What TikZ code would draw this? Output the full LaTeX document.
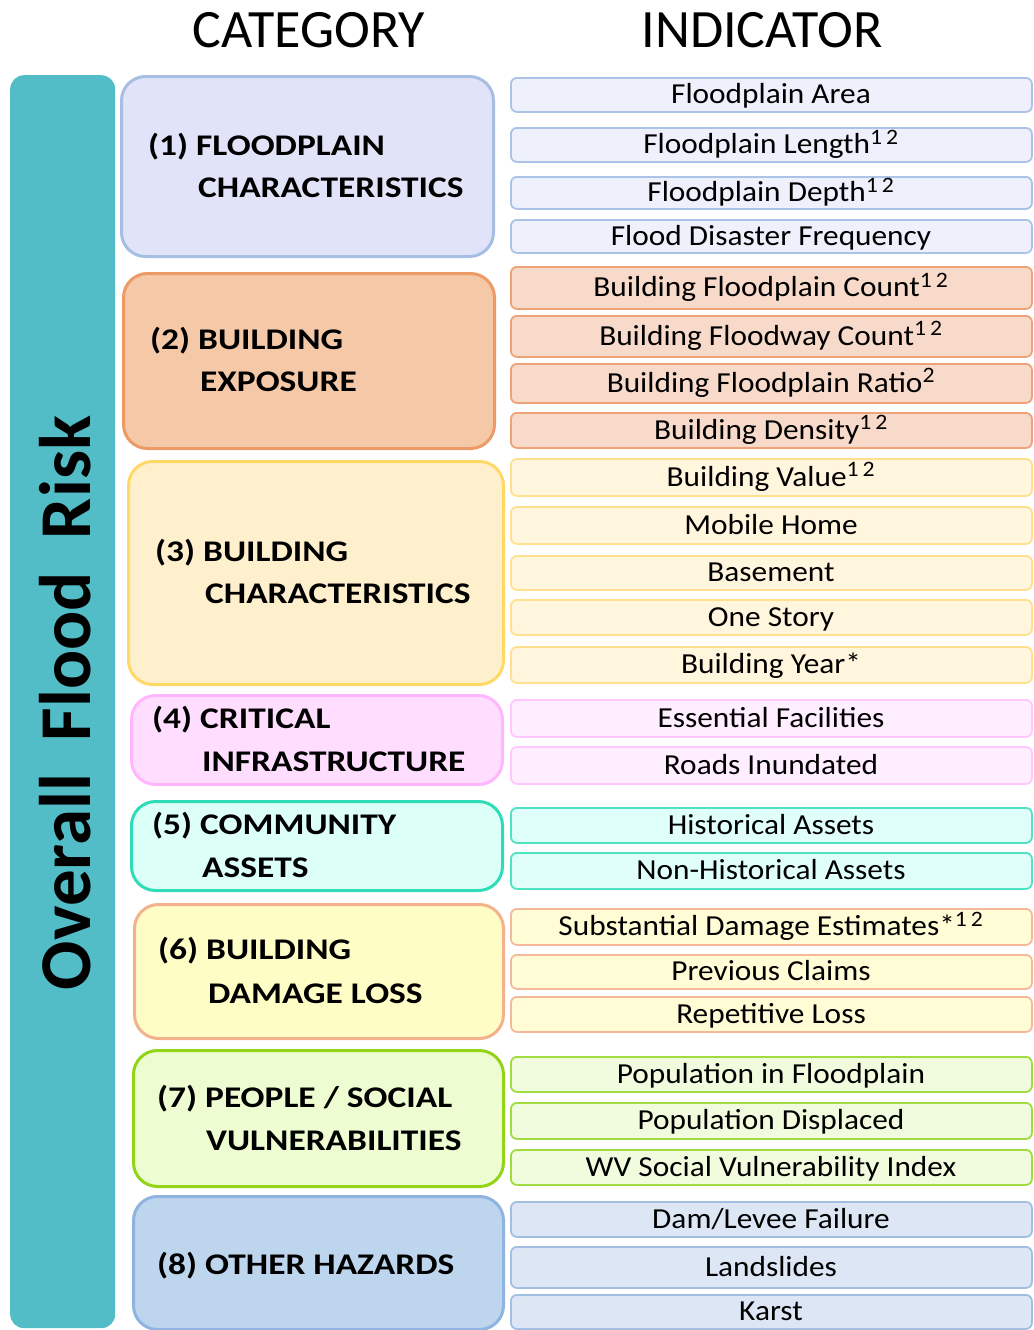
\documentclass[tikz,border=0pt]{standalone}
\usepackage{fontspec}
\setmainfont{Carlito}
\usepackage{graphicx}
\definecolor{bar}{HTML}{52BCC7}
\definecolor{c1d}{HTML}{A6BEE2}\definecolor{c1f}{HTML}{E1E4F8}
\definecolor{c2d}{HTML}{ED9B66}\definecolor{c2f}{HTML}{F5C8A8}
\definecolor{c3d}{HTML}{FFD966}\definecolor{c3f}{HTML}{FFF0CD}
\definecolor{c4d}{HTML}{FFB6FF}\definecolor{c4f}{HTML}{FFDDFF}
\definecolor{c5d}{HTML}{2EDDB8}\definecolor{c5f}{HTML}{DCFFF8}
\definecolor{c6d}{HTML}{F5B08C}\definecolor{c6f}{HTML}{FFFDC6}
\definecolor{c7d}{HTML}{92D417}\definecolor{c7f}{HTML}{EEFCD2}
\definecolor{c8d}{HTML}{8EB4DF}\definecolor{c8f}{HTML}{BED5EE}
\definecolor{i1d}{HTML}{ABC3E6}\definecolor{i1f}{HTML}{EEF0FC}
\definecolor{i2d}{HTML}{EFA277}\definecolor{i2f}{HTML}{F8DACA}
\definecolor{i3d}{HTML}{FFE08E}\definecolor{i3f}{HTML}{FFF6DD}
\definecolor{i4d}{HTML}{FFC6FF}\definecolor{i4f}{HTML}{FFEEFF}
\definecolor{i5d}{HTML}{4EE3C3}\definecolor{i5f}{HTML}{E0FFFA}
\definecolor{i6d}{HTML}{F6B89A}\definecolor{i6f}{HTML}{FFFCD6}
\definecolor{i7d}{HTML}{A0DC40}\definecolor{i7f}{HTML}{F1FCDF}
\definecolor{i8d}{HTML}{A2BFE2}\definecolor{i8f}{HTML}{DCE6F4}
\tikzset{
  catbox/.style={rectangle, rounded corners=24pt, line width=3pt, anchor=north west, inner sep=0pt},
  indbox/.style={rectangle, rounded corners=6pt, line width=1.8pt, anchor=north west, inner sep=0pt},
  indtext/.style={anchor=base, inner sep=0pt, font=\fontsize{29}{34}\selectfont},
  cattext/.style={anchor=base west, inner sep=0pt, font=\bfseries\fontsize{30}{36}\selectfont},
  header/.style={anchor=base, inner sep=0pt, font=\fontsize{54}{60}\selectfont},
}
\newcommand{\catbox}[6]{\node[catbox, draw=#6d, fill=#6f, minimum width={(#4-#2)*1pt}, minimum height={(#5-#3)*1pt}] (#1) at (#2,#3) {};}
\newcommand{\indbox}[5]{%
  \node[indbox, draw=#4d, fill=#4f, minimum width=521pt, minimum height={(#3-#2)*1pt}] (#1) at (510,#2) {};
  \node[indtext] (#1t) at (771,{(#2+#3)/2+9.5}) {\scalebox{1.08}[1]{#5}};}
\newcommand{\cattxt}[4]{\node[cattext] (#1) at (#2,{#3+10}) {\scalebox{1.18}[1]{#4}};}
\newcommand{\sups}[1]{\textsuperscript{\fontsize{22}{24}\selectfont #1}}
\begin{document}
\begin{tikzpicture}[x=1pt,y=-1pt]
\useasboundingbox (0,0) rectangle (1033,1330);
% headers
\node[header] (hcat) at (309,48) {CATEGORY};
\node[header] (hind) at (762,48) {INDICATOR};
% left bar
\node[rectangle, fill=bar, rounded corners=14pt, anchor=north west, inner sep=0pt, minimum width=105pt, minimum height=1253pt] (bar) at (10,75) {};
\node[rotate=90, inner sep=0pt, font=\bfseries\fontsize{73}{78}\selectfont] (risk) at (65,703) {Overall\hspace{0.45em}Flood\hspace{0.45em}Risk};
% categories
\catbox{c1}{120}{75}{492}{255}{c1}
\catbox{c2}{122}{272}{493}{447}{c2}
\catbox{c3}{127}{460}{502}{683}{c3}
\catbox{c4}{130}{694}{501}{783}{c4}
\catbox{c5}{130}{800}{501}{889}{c5}
\catbox{c6}{133}{903}{502}{1037}{c6}
\catbox{c7}{132}{1049}{502}{1185}{c7}
\catbox{c8}{132}{1195}{502}{1328}{c8}
\cattxt{t1a}{148}{145}{(1) FLOODPLAIN}
\cattxt{t1b}{198}{187}{CHARACTERISTICS}
\cattxt{t2a}{150}{339}{(2) BUILDING}
\cattxt{t2b}{200}{381}{EXPOSURE}
\cattxt{t3a}{155}{551}{(3) BUILDING}
\cattxt{t3b}{205}{593}{CHARACTERISTICS}
\cattxt{t4a}{152}{718}{(4) CRITICAL}
\cattxt{t4b}{202}{761}{INFRASTRUCTURE}
\cattxt{t5a}{152}{824}{(5) COMMUNITY}
\cattxt{t5b}{202}{867}{ASSETS}
\cattxt{t6a}{158}{949}{(6) BUILDING}
\cattxt{t6b}{208}{993}{DAMAGE LOSS}
\cattxt{t7a}{157}{1097}{(7) PEOPLE / SOCIAL}
\cattxt{t7b}{206}{1140}{VULNERABILITIES}
\cattxt{t8a}{157}{1264}{(8) OTHER HAZARDS}
% indicators
\indbox{a1}{77}{111}{i1}{Floodplain Area}
\indbox{a2}{127}{161}{i1}{Floodplain Length\sups{1\,2}}
\indbox{a3}{176}{208}{i1}{Floodplain Depth\sups{1\,2}}
\indbox{a4}{219}{252}{i1}{Flood Disaster Frequency}
\indbox{b1}{266}{308}{i2}{Building Floodplain Count\sups{1\,2}}
\indbox{b2}{315}{356}{i2}{Building Floodway Count\sups{1\,2}}
\indbox{b3}{363}{402}{i2}{Building Floodplain Ratio\sups{2}}
\indbox{b4}{412}{447}{i2}{Building Density\sups{1\,2}}
\indbox{d1}{458}{495}{i3}{Building Value\sups{1\,2}}
\indbox{d2}{506}{543}{i3}{Mobile Home}
\indbox{d3}{555}{589}{i3}{Basement}
\indbox{d4}{599}{634}{i3}{One Story}
\indbox{d5}{646}{682}{i3}{Building Year*}
\indbox{e1}{699}{736}{i4}{Essential Facilities}
\indbox{e2}{746}{783}{i4}{Roads Inundated}
\indbox{f1}{807}{842}{i5}{Historical Assets}
\indbox{f2}{852}{888}{i5}{Non-Historical Assets}
\indbox{g1}{908}{944}{i6}{Substantial Damage Estimates*\sups{1\,2}}
\indbox{g2}{954}{988}{i6}{Previous Claims}
\indbox{g3}{996}{1031}{i6}{Repetitive Loss}
\indbox{h1}{1056}{1091}{i7}{Population in Floodplain}
\indbox{h2}{1102}{1138}{i7}{Population Displaced}
\indbox{h3}{1149}{1184}{i7}{WV Social Vulnerability Index}
\indbox{k1}{1201}{1236}{i8}{Dam/Levee Failure}
\indbox{k2}{1246}{1287}{i8}{Landslides}
\indbox{k3}{1294}{1328}{i8}{Karst}
\end{tikzpicture}
\end{document}
